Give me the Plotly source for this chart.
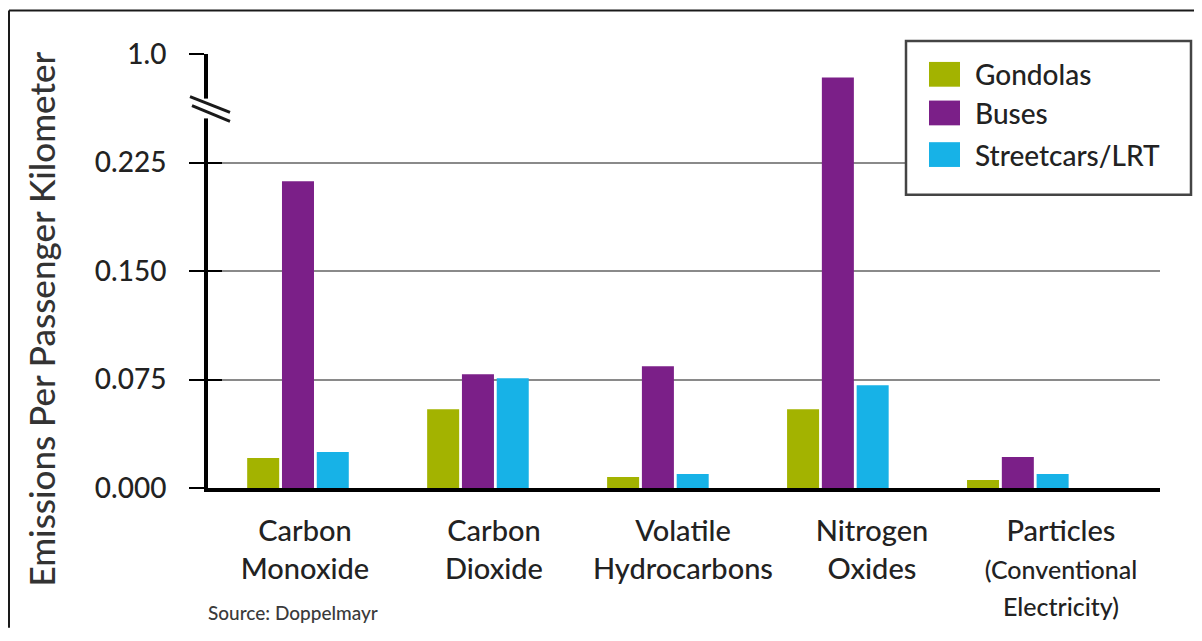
import plotly.graph_objects as go

# ---- data (values on the displayed, broken scale: top tick "1.0" sits at 0.300) ----
categories = ["Carbon Monoxide", "Carbon Dioxide", "Volatile Hydrocarbons",
              "Nitrogen Oxides", "Particles (Conventional Electricity)"]
category_labels = ["Carbon<br>Monoxide", "Carbon<br>Dioxide", "Volatile<br>Hydrocarbons",
                   "Nitrogen<br>Oxides",
                   "Particles<br><span style='font-size:25px'>(Conventional<br>Electricity)</span>"]
series_names = ["Gondolas", "Buses", "Streetcars/LRT"]
gondolas = [0.0207, 0.0545, 0.0076, 0.0545, 0.0055]
buses = [0.212, 0.0787, 0.0842, 0.2837, 0.0214]
streetcars = [0.0248, 0.0759, 0.0097, 0.0711, 0.0097]
colors = ["#a3b300", "#7b1f88", "#17b2e7"]
tick_vals = [0.0, 0.075, 0.150, 0.225, 0.300]
tick_text = ["0.000", "0.075", "0.150", "0.225", "1.0"]
y_title = "Emissions Per Passenger Kilometer"
source = "Source: Doppelmayr"

FONT = "Lato"
TXT = "#222222"
WEIGHT = 500

# the page body has an 8px margin: work in reference pixels, shifted by this offset
OFF = 8
W, H = 1202 - 2 * OFF, 641 - 2 * OFF
L, R, T, B = 208 - OFF, 1160 - OFF, 54 - OFF, 492 - OFF


def px(xp):
    return (xp - OFF - L) / (R - L)


def py(yp):
    return (B - (yp - OFF)) / (B - T)


fig = go.Figure()
for name, vals, col in zip(series_names, [gondolas, buses, streetcars], colors):
    fig.add_trace(go.Bar(x=categories, y=vals, name=name, marker_color=col,
                         marker_line_width=0, showlegend=False))

# invisible trace that carries the category labels on a second x axis
fig.add_trace(go.Scatter(x=categories, y=[0] * len(categories), xaxis="x2", yaxis="y",
                         mode="markers", marker=dict(opacity=0), hoverinfo="skip",
                         showlegend=False))
# invisible trace to activate yaxis2 (inner tick marks)
fig.add_trace(go.Scatter(x=[categories[0]], y=[0], yaxis="y2", mode="markers",
                         marker=dict(opacity=0), hoverinfo="skip", showlegend=False))

shapes = []
annotations = []

# outer frame (only left and top edges visible in the picture), kept inside the canvas
frame = dict(color="#1a1a1a", width=2)
shapes.append(dict(type="line", xref="paper", yref="paper", x0=px(9), x1=px(9),
                   y0=py(10), y1=py(H + OFF), line=frame, layer="below"))
shapes.append(dict(type="line", xref="paper", yref="paper", x0=px(9), x1=px(W + OFF),
                   y0=py(10), y1=py(10), line=frame, layer="below"))

# axis break marks
shapes.append(dict(type="rect", xref="paper", yref="paper", x0=px(203), x1=px(213),
                   y0=py(119), y1=py(99), fillcolor="white", line_width=0, layer="above"))
shapes.append(dict(type="line", xref="paper", yref="paper", x0=px(190), y0=py(97),
                   x1=px(230), y1=py(113), line=dict(color="#1a1a1a", width=3), layer="above"))
shapes.append(dict(type="line", xref="paper", yref="paper", x0=px(192), y0=py(106),
                   x1=px(230), y1=py(122), line=dict(color="#1a1a1a", width=3), layer="above"))

# custom legend
shapes.append(dict(type="rect", xref="paper", yref="paper", x0=px(906), x1=px(1191),
                   y0=py(196), y1=py(41), fillcolor="white",
                   line=dict(color="#444444", width=2.5), layer="above"))
sw_centers = [74.5, 113.5, 155.5]
for name, col, cy in zip(series_names, colors, sw_centers):
    shapes.append(dict(type="rect", xref="paper", yref="paper", x0=px(929), x1=px(960),
                       y0=py(cy + 12.5), y1=py(cy - 12.5), fillcolor=col, line_width=0,
                       layer="above"))
    annotations.append(dict(xref="paper", yref="paper", x=px(973), y=py(cy), text=name,
                            showarrow=False, xanchor="left", yanchor="middle",
                            font=dict(family=FONT, size=28, color=TXT, weight=WEIGHT)))

# y-axis title
annotations.append(dict(xref="paper", yref="paper", x=px(41), y=py(322), text=y_title,
                        textangle=-90, showarrow=False, xanchor="center", yanchor="middle",
                        font=dict(family=FONT, size=35, color="#333333", weight=WEIGHT)))
# source
annotations.append(dict(xref="paper", yref="paper", x=px(206), y=py(618), text=source,
                        showarrow=False, xanchor="left", yanchor="middle",
                        font=dict(family=FONT, size=19, color="#3a3a3a", weight=WEIGHT)))

fig.update_layout(
    width=W, height=H,
    margin=dict(l=L, r=W - R, t=T, b=H - B, pad=0),
    paper_bgcolor="white", plot_bgcolor="white",
    barmode="group", bargap=0.42, bargroupgap=0.08,
    font=dict(family=FONT, color=TXT),
    showlegend=False,
    shapes=shapes, annotations=annotations,
    xaxis=dict(type="category", range=[-0.5, 4.79], showgrid=False,
               showline=True, linecolor="black", linewidth=4, ticks="",
               showticklabels=False),
    xaxis2=dict(type="category", overlaying="x", anchor="y", side="bottom",
                range=[-0.513, 4.524], showgrid=False, showline=False, ticks="",
                tickvals=categories, ticktext=category_labels,
                tickfont=dict(family=FONT, size=29, color=TXT, weight=WEIGHT),
                ticklabelstandoff=23),
    yaxis=dict(range=[0, 0.3], tickvals=tick_vals, ticktext=tick_text,
               showgrid=True, gridcolor="#8a8a8a", gridwidth=2, zeroline=False,
               showline=True, linecolor="black", linewidth=4,
               ticks="outside", ticklen=15, tickwidth=2, tickcolor="black",
               ticklabelstandoff=17,
               tickfont=dict(family=FONT, size=28, color=TXT, weight=WEIGHT)),
    yaxis2=dict(overlaying="y", matches="y", range=[0, 0.3], side="left", anchor="x",
                tickvals=tick_vals, ticks="inside", ticklen=14, tickwidth=2,
                tickcolor="black", showticklabels=False, showgrid=False,
                zeroline=False, showline=False),
)

fig.write_html("out.html")
